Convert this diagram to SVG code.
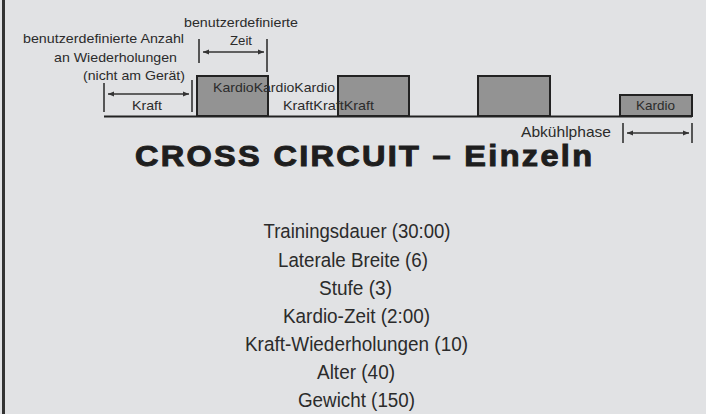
<svg xmlns="http://www.w3.org/2000/svg" width="706" height="414" viewBox="0 0 706 414">
<style>
.lbl{font-family:"Liberation Sans",Arial,sans-serif;font-size:13.5px;fill:#2b2b2b}
.lst{font-family:"Liberation Sans",Arial,sans-serif;font-size:20.5px;fill:#2b2b2b;text-anchor:middle}
.ttl{font-family:"Liberation Sans",Arial,sans-serif;font-size:29px;font-weight:bold;fill:#1e1e1e;stroke:#1e1e1e;stroke-width:1}
.box{fill:#939393;stroke:#222;stroke-width:2}
.tick{stroke:#333;stroke-width:1.6;fill:none}
.arr{stroke:#333;stroke-width:1.3;fill:none;marker-start:url(#ah);marker-end:url(#ah)}
</style>
<defs>
<marker id="ah" viewBox="0 0 10 10" refX="10" refY="5" markerWidth="6" markerHeight="6" markerUnits="userSpaceOnUse" orient="auto-start-reverse">
<path d="M0,1 L10,5 L0,9 Z" fill="#333"/>
</marker>
</defs>
<rect x="0" y="0" width="706" height="414" fill="#e1e2e4"/>
<rect x="2" y="0" width="3" height="414" fill="#333"/>
<g id="connectors">
<path d="M104,116.5 H692" stroke="#222" stroke-width="2.2" fill="none"/>
<path class="tick" d="M104,83 V112 M192,80 V112"/>
<path class="arr" d="M108,94 H189"/>
<path class="tick" d="M199,39 V63 M267,39 V72"/>
<path class="arr" d="M203,52 H264"/>
<path class="tick" d="M623,123 V143 M692,123 V143"/>
<path class="arr" d="M627,133 H689"/>
</g>
<g id="box1"><rect class="box" x="197" y="76" width="71" height="40"/></g>
<g id="box2"><rect class="box" x="338" y="76" width="71" height="40"/></g>
<g id="box3"><rect class="box" x="478" y="76" width="72" height="40"/></g>
<g id="box4"><rect class="box" x="620" y="95" width="72" height="21"/><text class="lbl" x="636" y="110" textLength="39" lengthAdjust="spacingAndGlyphs">Kardio</text></g>
<g id="labels">
<text class="lbl" x="23" y="43" textLength="161" lengthAdjust="spacingAndGlyphs">benutzerdefinierte Anzahl</text>
<text class="lbl" x="54" y="62" textLength="123" lengthAdjust="spacingAndGlyphs">an Wiederholungen</text>
<text class="lbl" x="83" y="80" textLength="102" lengthAdjust="spacingAndGlyphs">(nicht am Gerät)</text>
<text class="lbl" x="184" y="27" textLength="114" lengthAdjust="spacingAndGlyphs">benutzerdefinierte</text>
<text class="lbl" x="230" y="45" textLength="22" lengthAdjust="spacingAndGlyphs">Zeit</text>
<text class="lbl" x="132" y="110" textLength="30" lengthAdjust="spacingAndGlyphs">Kraft</text>
<text class="lbl" x="213" y="92" textLength="122" lengthAdjust="spacingAndGlyphs">KardioKardioKardio</text>
<text class="lbl" x="283" y="110" textLength="91" lengthAdjust="spacingAndGlyphs">KraftKraftKraft</text>
<text class="lbl" x="521" y="137" textLength="90" lengthAdjust="spacingAndGlyphs" style="font-size:14.5px">Abkühlphase</text>
</g>
<g id="title" transform="translate(135,166) scale(1.12,1)"><text class="ttl" x="0" y="0" textLength="408" lengthAdjust="spacing">CROSS CIRCUIT – Einzeln</text></g>
<g id="settings">
<text class="lst" x="357" y="238" textLength="187" lengthAdjust="spacingAndGlyphs">Trainingsdauer (30:00)</text>
<text class="lst" x="353" y="267" textLength="150" lengthAdjust="spacingAndGlyphs">Laterale Breite (6)</text>
<text class="lst" x="355.5" y="295" textLength="73" lengthAdjust="spacingAndGlyphs">Stufe (3)</text>
<text class="lst" x="356.5" y="323" textLength="147" lengthAdjust="spacingAndGlyphs">Kardio-Zeit (2:00)</text>
<text class="lst" x="356.5" y="351" textLength="223" lengthAdjust="spacingAndGlyphs">Kraft-Wiederholungen (10)</text>
<text class="lst" x="356" y="379" textLength="78" lengthAdjust="spacingAndGlyphs">Alter (40)</text>
<text class="lst" x="356.5" y="407" textLength="117" lengthAdjust="spacingAndGlyphs">Gewicht (150)</text>
</g>
</svg>
